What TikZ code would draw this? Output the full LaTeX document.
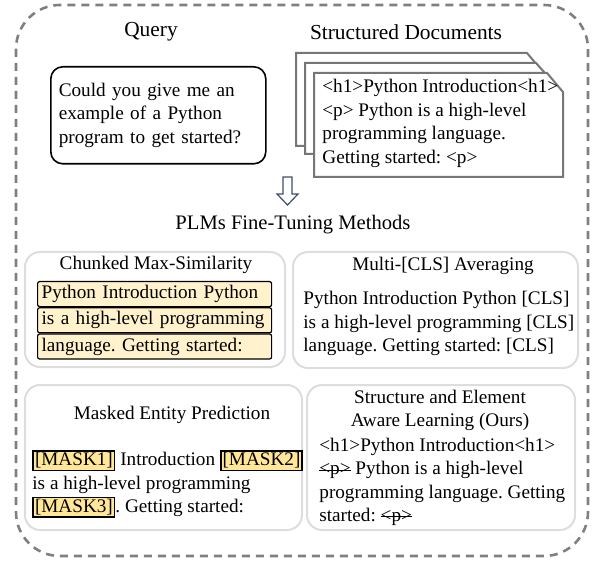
\documentclass[tikz,border=0pt]{standalone}
\usepackage{fontspec}
\setmainfont{Liberation Serif}
\usetikzlibrary{positioning}
\definecolor{boxgray}{HTML}{DDDDDD}
\definecolor{dashgray}{HTML}{808080}
\definecolor{pagegray}{HTML}{767676}
\definecolor{chunkyellow}{HTML}{FFF2CC}
\definecolor{maskyellow}{HTML}{FFE699}
\definecolor{arrowblue}{HTML}{3E4E6C}
\newcommand{\struck}[1]{\setbox0\hbox{#1}\rlap{\rule[0.23em]{\wd0}{0.5pt}}\box0\relax}
\newcommand{\maskbox}[1]{{\setlength{\fboxsep}{0.5pt}\setlength{\fboxrule}{0.8pt}\fcolorbox{black}{maskyellow}{#1}}}
\frenchspacing
\begin{document}
\begin{tikzpicture}[x=0.5pt,y=-0.5pt,
    every node/.style={font=\fontsize{9.6}{11.7}\selectfont, inner sep=0pt},
    bigtitle/.style={font=\fontsize{10.7}{12.5}\selectfont},
    method/.style={draw=boxgray, line width=1pt, rounded corners=7.5pt},
    page/.style={draw=pagegray, line width=1pt, fill=white},
    chunk/.style={draw, fill=chunkyellow, line width=0.6pt, rounded corners=1pt,
        minimum height=12.5pt, text width=113pt, inner xsep=2pt, align=left}]
    \useasboundingbox (0,0) rectangle (594,561);
    \draw[dashgray, line width=1.3pt, dash pattern=on 4pt off 3pt, rounded corners=22pt] (16,5) rectangle (588,556);

    \node[bigtitle] (querytitle) at (151,32) {Query};
    \node[bigtitle] (doctitle) at (406,32) {Structured Documents};

    \node[draw, line width=0.8pt, rounded corners=6pt, text width=99.5pt, inner xsep=4pt,
        minimum height=48.5pt, align=left, anchor=north west] (query) at (50,66)
        {Could you give me an\\example of a Python\\program to get started?};

    \draw[page] (296,53) -- (527,53) -- (543,72) -- (543,146) -- (296,146) -- cycle;
    \draw[page] (305,63) -- (536,63) -- (553,82) -- (553,154) -- (305,154) -- cycle;
    \draw[page] (314,73) -- (547,73) -- (563,92) -- (563,177) -- (314,177) -- cycle;
    \node[anchor=west, align=left] (doc) at (322,123.5)
        {<h1>Python Introduction<h1>\\<p> Python is a high-level\\programming language.\\Getting started: <p>};

    \draw[arrowblue, line width=0.6pt, fill=white] (283,177) -- (292,177) -- (292,194) -- (298,194)
        -- (287.5,205) -- (277,194) -- (283,194) -- cycle;
    \node[font=\fontsize{10.3}{12}\selectfont] (plmtitle) at (293,225) {PLMs Fine-Tuning Methods};

    \draw[method] (25,252) rectangle (285,367);
    \node (chunktitle) at (156,265) {Chunked Max-Similarity};
    \node[chunk, anchor=north west] (chunk1) at (37,281) {\mbox{Python Introduction Python}};
    \node[chunk, below=0pt of chunk1] (chunk2) {\mbox{is a high-level programming}};
    \node[chunk, below=0pt of chunk2] (chunk3) {\mbox{language. Getting started:}};

    \draw[method] (293,252) rectangle (578,368);
    \node (clstitle) at (443,266) {Multi-[CLS] Averaging};
    \node[anchor=west, align=left] (clstext) at (303,323.5)
        {Python Introduction Python [CLS]\\is a high-level programming [CLS]\\language. Getting started: [CLS]};

    \draw[method] (25,385) rectangle (302,530);
    \node (masktitle) at (172,415) {Masked Entity Prediction};
    \node[anchor=west, align=left] (masktext) at (32,484)
        {\maskbox{[MASK1]} Introduction \maskbox{[MASK2]}\\is a high-level programming\\\maskbox{[MASK3]}. Getting started:};

    \draw[method] (307,385) rectangle (575,530);
    \node[align=center] (ourstitle) at (440,410.5) {Structure and Element\\Aware Learning (Ours)};
    \node[anchor=west, align=left] (ourstext) at (319,482)
        {<h1>Python Introduction<h1>\\\struck{<p>} Python is a high-level\\programming language. Getting\\started: \struck{<p>}};
\end{tikzpicture}
\end{document}
